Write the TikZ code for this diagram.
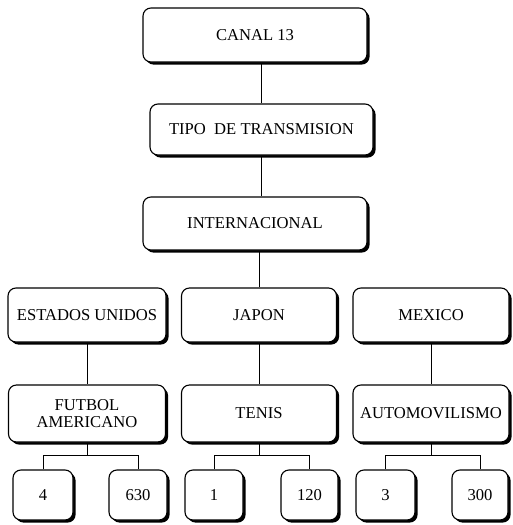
\documentclass[tikz,border=0pt]{standalone}
\usepackage{fontspec}
\setmainfont{Liberation Serif}
\usetikzlibrary{shadows}
\tikzset{
  caja/.style={draw, line width=1.1pt, rounded corners=8pt, fill=white,
    drop shadow={shadow xshift=2.6pt, shadow yshift=-2.6pt, fill=black, opacity=1},
    align=center, inner sep=0pt, font=\fontsize{16.6}{17}\selectfont},
  linea/.style={line width=0.8pt}
}
\begin{document}
\begin{tikzpicture}[x=1pt,y=-1pt]
\useasboundingbox (0,0) rectangle (512,525);
% niveles superiores
\node[caja, minimum width=224pt, minimum height=54pt] (canal) at (255,35) {CANAL 13};
\node[caja, minimum width=223pt, minimum height=51pt] (tipo) at (261.5,129.5) {TIPO\ \ DE TRANSMISION};
\node[caja, minimum width=224pt, minimum height=53pt] (inter) at (255,223.5) {INTERNACIONAL};
% paises
\node[caja, minimum width=158pt, minimum height=54pt] (eeuu) at (87,315) {ESTADOS UNIDOS};
\node[caja, minimum width=155pt, minimum height=54pt] (japon) at (259,315) {JAPON};
\node[caja, minimum width=156pt, minimum height=54pt] (mexico) at (431,315) {MEXICO};
% deportes
\node[caja, minimum width=157pt, minimum height=57pt] (futbol) at (87,413.5) {FUTBOL\\AMERICANO};
\node[caja, minimum width=155pt, minimum height=57pt] (tenis) at (259,413.5) {TENIS};
\node[caja, minimum width=156pt, minimum height=57pt] (auto) at (431,413.5) {AUTOMOVILISMO};
% cifras
\node[caja, minimum width=60pt, minimum height=50pt] (n4) at (43,495) {4};
\node[caja, minimum width=58pt, minimum height=50pt] (n630) at (138,495) {630};
\node[caja, minimum width=58pt, minimum height=50pt] (n1) at (214,495) {1};
\node[caja, minimum width=57pt, minimum height=50pt] (n120) at (309.5,495) {120};
\node[caja, minimum width=59pt, minimum height=50pt] (n3) at (385.5,495) {3};
\node[caja, minimum width=56pt, minimum height=50pt] (n300) at (480,495) {300};
% conectores
\draw[linea] (tipo.north) -- (tipo.north |- canal.south);
\draw[linea] (tipo.south) -- (tipo.south |- inter.north);
\draw[linea] (japon.north) -- (japon.north |- inter.south);
\draw[linea] (eeuu.south) -- (futbol.north);
\draw[linea] (japon.south) -- (tenis.north);
\draw[linea] (mexico.south) -- (auto.north);
\draw[linea] (futbol.south) -- ++(0,13) coordinate (hf);
\draw[linea] (n4.north) |- (hf) -| (n630.north);
\draw[linea] (tenis.south) -- ++(0,13) coordinate (ht);
\draw[linea] (n1.north) |- (ht) -| (n120.north);
\draw[linea] (auto.south) -- ++(0,13) coordinate (ha);
\draw[linea] (n3.north) |- (ha) -| (n300.north);
\end{tikzpicture}
\end{document}
